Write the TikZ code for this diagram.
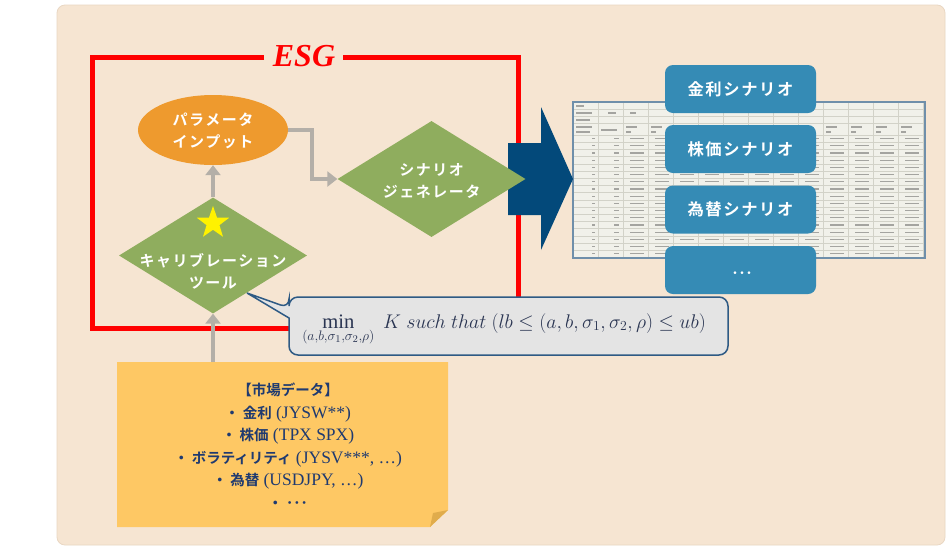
\documentclass[tikz,border=0pt]{standalone}
\usepackage{graphicx}
\usepackage{fontspec}
\setmainfont{Liberation Serif}
\newfontfamily\jp{Noto Sans CJK JP}[BoldFont={* Bold}]
\newfontfamily\jpw{Noto Sans CJK JP}[BoldFont={* Bold},LetterSpace=10]
\usetikzlibrary{shapes.geometric,arrows.meta,calc}
\definecolor{bg}{HTML}{F6E5D2}
\definecolor{bgedge}{HTML}{E9D7C3}
\definecolor{esgred}{HTML}{FF0000}
\definecolor{orangeC}{HTML}{EE9A2E}
\definecolor{greenC}{HTML}{8FAD5E}
\definecolor{grayA}{HTML}{B4AFA8}
\definecolor{navyA}{HTML}{03497A}
\definecolor{blueBox}{HTML}{358BB5}
\definecolor{callFill}{HTML}{E4E4E4}
\definecolor{callLine}{HTML}{2E5A84}
\definecolor{callText}{HTML}{2A3552}
\definecolor{noteY}{HTML}{FEC864}
\definecolor{noteFold}{HTML}{E0AC4C}
\definecolor{noteText}{HTML}{1F3A70}
\definecolor{sheetFill}{HTML}{F1F1EA}
\definecolor{sheetGrid}{HTML}{D2D2C8}
\definecolor{sheetLine}{HTML}{6F8FAA}
\definecolor{sheetText}{HTML}{A4A4A0}
\begin{document}
\begin{tikzpicture}[x=1pt,y=-1pt,
  garrow/.style={draw=grayA, line width=4.5pt, -{Triangle[width=15pt,length=10pt]}},
  wtext/.style={text=white, font=\jpw\bfseries\fontsize{15}{22}\selectfont, align=center, inner sep=0},
  scen/.style={fill=blueBox, rounded corners=8pt, minimum width=151pt, minimum height=48pt, text=white, font=\jpw\bfseries\fontsize{16.3}{18}\selectfont, inner sep=0},
  gdiamond/.style={diamond, fill=greenC, minimum width=188pt, minimum height=116pt, aspect=1.62, inner sep=0},
  sgrid/.style={draw=sheetGrid, line width=0.6pt},
  stext/.style={draw=sheetText, line width=1.3pt},
]
\useasboundingbox (0,0) rectangle (949,550);
\fill[white] (0,0) rectangle (949,550);
\filldraw[fill=bg, draw=bgedge, line width=0.8pt, rounded corners=8pt] (57,5) rectangle (945,545);

% ESG frame
\draw[esgred, line width=5pt] (264,57) -- (92,57) -- (92,328) -- (518,328) -- (518,57) -- (343,57);
\node[text=esgred, font=\fontsize{32}{32}\selectfont\bfseries\itshape, inner sep=0] (esg) at (304,56) {ESG};

% spreadsheet
\fill[sheetFill] (573,102) rectangle (925,258);
\foreach \x in {598,623,...,923} \draw[sgrid] (\x,102) -- (\x,258);
\foreach \y in {109,116,123,135} \draw[sgrid] (573,\y) -- (925,\y);
\foreach \k in {1,...,17} \draw[sgrid] (573,{135+\k*7.2}) -- (925,{135+\k*7.2});
\foreach \k in {0,...,16} {
  \draw[stext] (592,{138.6+\k*7.2}) -- (595,{138.6+\k*7.2});
  \draw[stext] (614,{138.6+\k*7.2}) -- (619,{138.6+\k*7.2});
  \foreach \x in {648,673,...,923}
    \draw[stext] ({\x-18},{138.6+\k*7.2}) -- ({\x-4},{138.6+\k*7.2});
}
\foreach \x in {623,648,...,898} {
  \draw[stext] ({\x+3},127) -- ({\x+14},127);
  \draw[stext] ({\x+3},132) -- ({\x+8},132);
}
\draw[stext] (576,106) -- (584,106);
\draw[stext] (576,113) -- (592,113);
\draw[stext] (608,113) -- (616,113);
\draw[stext] (630,113) -- (636,113);
\draw[stext] (576,120) -- (590,120);
\draw[stext] (576,127) -- (592,127);
\draw[stext] (576,132) -- (590,132);
\draw[stext] (601,130) -- (617,130);
\draw[sheetLine, line width=1.2pt] (573,102) rectangle (925,258);

% scenario boxes
\node[scen] (s1) at (740.5,89) {金利シナリオ};
\node[scen] (s2) at (740.5,149) {株価シナリオ};
\node[scen] (s3) at (740.5,209.5) {為替シナリオ};
\node[scen] (s4) at (740.5,270) {};
\node[text=white, font=\jp\bfseries\fontsize{14}{14}\selectfont, inner sep=0] (s4t) at (742,275) {･･･};

% big blue arrow
\fill[navyA] (508,143) -- (541,143) -- (541,107) -- (573,179) -- (541,250) -- (541,215) -- (508,215) -- cycle;

% nodes
\node[ellipse, fill=orangeC, minimum width=150pt, minimum height=70pt, inner sep=0] (param) at (213,130) {};
\node[wtext] (paramt) at (213,131) {パラメータ\\インプット};
\node[gdiamond] (gen) at (431.5,179) {};
\node[wtext] (gent) at (431.5,181) {シナリオ\\ジェネレータ};
\node[gdiamond] (cal) at (213,255.5) {};
\node[wtext] (calt) at (213,271) {キャリブレーション\\ツール};
\node[star, star points=5, star point ratio=2.5, fill=yellow, minimum size=34pt, inner sep=0] (star) at (213,223) {};

% note
\fill[noteY] (117,362) -- (448,362) -- (448,510) -- (430,527) -- (117,527) -- cycle;
\fill[noteFold] (430,527) -- (448,510) -- (433,513) -- cycle;
\node[minimum width=331pt, minimum height=165pt, inner sep=0] (note) at (282.5,444.5) {};
\node[text=noteText, align=center, inner sep=0, font=\fontsize{17.5}{22.5}\selectfont] (notet) at (288,445.5) {%
{\jp\bfseries\fontsize{14.5}{22.5}\selectfont 【市場データ】}\\
{\jp\bfseries\fontsize{14.5}{22.5}\selectfont ・ 金利} (JYSW**)\\
{\jp\bfseries\fontsize{14.5}{22.5}\selectfont ・ 株価} (TPX SPX)\\
{\jp\bfseries\fontsize{14.5}{22.5}\selectfont ・ ボラティリティ} (JYSV***, …)\\
{\jp\bfseries\fontsize{14.5}{22.5}\selectfont ・ 為替} (USDJPY, …)\\
{\jp\bfseries\fontsize{14.5}{22.5}\selectfont ・ ･･･}};

% connectors
\draw[garrow] (cal.north) -- (param.south);
\draw[garrow] (param.east) -- ++(24,0) |- (gen.west);
\draw[garrow] (note.north -| cal.south) -- (cal.south);

% callout
\coordinate (tip) at (247,293);
\filldraw[fill=callFill, draw=callLine, line width=1.5pt] (289,318) [rounded corners=9pt] -- (289,355) -- (728,355) -- (728,297) -- (289,297) -- (289,308) [sharp corners] -- (tip) -- cycle;
\node[text=callText, inner sep=0, font=\fontsize{18}{20}\selectfont] (callt) at (504,329)
  {\scalebox{1.145}{$\displaystyle\min_{\raisebox{-2pt}{$\scriptstyle(a,b,\sigma_1,\sigma_2,\rho)$}}\;K~such~that~(lb\le(a,b,\sigma_1,\sigma_2,\rho)\le ub)$}};
\end{tikzpicture}
\end{document}
